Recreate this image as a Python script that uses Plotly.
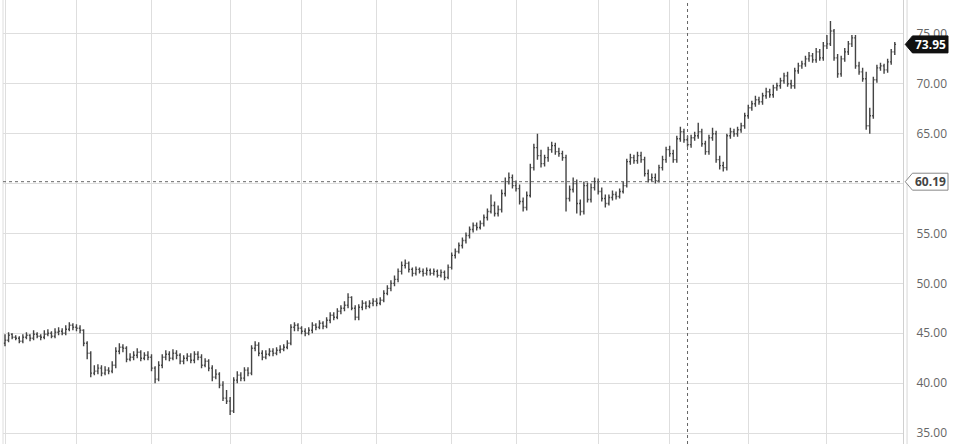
import plotly.graph_objects as go

bar_open = [
    44.0, 44.3, 44.9, 44.6, 44.5, 44.2, 44.6, 44.8, 44.5, 44.9,
    44.7, 44.6, 44.9, 45.0, 44.7, 45.1, 45.2, 45.0, 45.4, 45.8,
    45.6, 45.5, 45.3, 44.0, 43.0, 41.0, 41.2, 41.5, 41.0, 41.3,
    41.2, 41.8, 43.2, 43.6, 43.5, 42.4, 42.6, 42.8, 43.1, 42.5,
    42.8, 42.6, 41.5, 40.4, 41.8, 42.6, 42.9, 42.5, 43.0, 42.8,
    42.2, 42.5, 42.7, 42.3, 42.9, 42.6, 41.8, 42.2, 41.5, 40.6,
    40.9, 39.8, 38.5, 38.2, 37.2, 40.3, 40.8, 40.5, 41.3, 41.0,
    43.5, 43.8, 43.0, 42.6, 42.9, 43.2, 43.0, 43.3, 43.4, 43.6,
    44.0, 45.6, 45.8, 45.5, 45.2, 45.0, 45.3, 45.8, 45.6, 46.0,
    45.7, 46.3, 46.8, 46.6, 47.2, 47.5, 47.8, 48.6, 47.5, 46.6,
    47.6, 48.0, 47.7, 48.0, 48.2, 48.0, 48.3, 49.0, 49.5, 50.0,
    50.4, 51.2, 51.8, 52.0, 51.4, 51.0, 51.4, 51.2, 51.0, 51.3,
    51.0, 51.2, 50.8, 51.1, 50.6, 51.6, 52.8, 53.2, 53.8, 54.3,
    54.8, 55.4, 55.8, 55.6, 56.0, 56.6, 57.2, 57.8, 57.0, 57.4,
    59.0, 60.2, 60.6, 59.8, 59.5, 58.2, 57.6, 58.8, 61.6, 63.6,
    62.8, 62.0, 62.6, 63.4, 63.8, 63.2, 63.0, 62.6, 58.5, 59.4,
    60.0, 58.0, 57.2, 59.8, 58.4, 59.6, 60.2, 59.2, 58.5, 58.0,
    58.6, 58.9, 58.7, 59.2, 59.8, 62.2, 62.6, 62.3, 62.8, 62.4,
    61.0, 60.4, 60.6, 60.3, 61.6, 62.4, 63.4, 63.0, 62.4, 64.5,
    65.2, 64.4, 63.9, 64.6, 64.8, 65.2, 64.0, 63.2, 64.6, 65.0,
    62.4, 61.8, 61.6, 64.8, 65.2, 65.0, 65.4, 65.8, 66.8, 67.6,
    68.0, 68.4, 68.2, 68.8, 69.2, 68.9, 69.6, 69.8, 70.3, 70.8,
    70.0, 69.8, 71.3, 71.8, 72.0, 72.5, 72.8, 72.4, 73.2, 72.6,
    73.8, 74.0, 75.3, 72.6, 71.0, 72.5, 73.2, 74.0, 74.6, 71.8,
    71.2, 70.5, 65.8, 66.8, 70.4, 71.6, 71.8, 71.4, 72.2, 73.2,
]

bar_high = [
    44.9, 45.1, 45.0, 44.8, 44.7, 44.9, 45.1, 44.9, 45.3, 45.1,
    44.9, 45.3, 45.4, 45.2, 45.5, 45.6, 45.5, 45.8, 46.1, 46.0,
    45.9, 45.8, 45.4, 44.2, 43.2, 41.8, 41.9, 41.8, 41.7, 41.6,
    42.2, 43.6, 44.0, 43.9, 43.7, 43.0, 43.2, 43.5, 43.3, 43.1,
    43.2, 42.9, 41.7, 42.2, 42.9, 43.3, 43.2, 43.4, 43.3, 43.0,
    42.8, 43.0, 43.0, 43.2, 43.2, 42.9, 42.5, 42.4, 41.8, 41.4,
    41.1, 40.2, 39.3, 38.6, 40.6, 41.2, 41.1, 41.6, 41.6, 43.8,
    44.2, 44.1, 43.3, 43.3, 43.5, 43.5, 43.6, 43.8, 43.9, 44.3,
    45.9, 46.1, 46.0, 45.7, 45.5, 45.6, 46.1, 46.0, 46.3, 46.2,
    46.6, 47.1, 47.1, 47.5, 47.8, 48.2, 49.0, 48.7, 47.8, 47.9,
    48.3, 48.2, 48.3, 48.5, 48.5, 48.6, 49.3, 49.8, 50.3, 50.8,
    51.5, 52.2, 52.4, 52.2, 51.6, 51.7, 51.6, 51.5, 51.6, 51.5,
    51.5, 51.4, 51.4, 51.3, 51.9, 53.1, 53.5, 54.1, 54.6, 55.1,
    55.7, 56.1, 56.1, 56.3, 56.9, 57.5, 58.9, 58.2, 57.8, 59.4,
    60.6, 61.1, 60.9, 60.3, 59.9, 58.6, 59.2, 62.0, 64.0, 65.0,
    63.4, 62.9, 63.7, 64.2, 64.1, 63.6, 63.3, 62.9, 59.8, 60.6,
    60.4, 58.4, 60.2, 60.1, 60.0, 60.6, 60.5, 59.6, 58.9, 58.9,
    59.3, 59.2, 59.5, 60.2, 62.5, 63.0, 62.9, 63.2, 63.2, 62.7,
    61.4, 61.0, 61.0, 61.9, 62.8, 63.7, 63.8, 63.4, 64.8, 65.7,
    65.5, 64.8, 64.9, 65.2, 66.1, 65.5, 64.3, 64.9, 65.6, 65.3,
    62.8, 62.2, 65.0, 65.6, 65.5, 65.7, 66.1, 67.1, 67.9, 68.3,
    68.8, 68.7, 69.1, 69.6, 69.5, 69.9, 70.1, 70.6, 71.1, 71.2,
    70.4, 71.6, 72.1, 72.3, 72.8, 73.2, 73.1, 73.6, 73.5, 74.2,
    74.9, 76.3, 75.5, 73.0, 72.8, 73.6, 74.3, 74.9, 74.9, 72.2,
    71.6, 71.2, 67.6, 70.7, 71.9, 72.1, 72.0, 72.5, 73.5, 74.2,
]

bar_low = [
    43.7, 44.1, 44.4, 44.3, 44.0, 44.0, 44.4, 44.2, 44.3, 44.5,
    44.3, 44.4, 44.7, 44.5, 44.5, 44.8, 44.8, 44.8, 45.2, 45.3,
    45.2, 45.0, 43.7, 42.4, 40.6, 40.8, 40.9, 40.7, 40.8, 40.9,
    41.0, 41.5, 42.9, 43.1, 42.1, 42.2, 42.3, 42.5, 42.2, 42.3,
    42.3, 41.2, 40.0, 40.2, 41.5, 42.3, 42.2, 42.3, 42.4, 41.9,
    41.9, 42.2, 42.0, 42.0, 42.3, 41.5, 41.6, 41.2, 40.2, 40.4,
    39.5, 38.2, 37.9, 36.8, 37.0, 40.0, 40.2, 40.2, 40.7, 40.8,
    43.2, 42.7, 42.3, 42.4, 42.7, 42.7, 42.8, 43.0, 43.2, 43.4,
    43.8, 45.2, 45.2, 44.9, 44.7, 44.8, 45.0, 45.3, 45.4, 45.4,
    45.5, 46.0, 46.3, 46.4, 46.9, 47.2, 47.5, 47.3, 46.3, 46.3,
    47.3, 47.4, 47.5, 47.7, 47.7, 47.8, 48.1, 48.8, 49.2, 49.7,
    50.1, 50.9, 51.5, 51.1, 50.7, 50.8, 51.0, 50.7, 50.8, 50.8,
    50.8, 50.6, 50.6, 50.3, 50.4, 51.4, 52.5, 53.0, 53.5, 54.0,
    54.5, 55.1, 55.3, 55.4, 55.7, 56.3, 57.0, 56.7, 56.7, 57.1,
    58.7, 59.9, 59.5, 59.2, 57.9, 57.2, 57.3, 58.6, 61.3, 62.4,
    61.6, 61.7, 62.2, 63.1, 62.9, 62.7, 62.3, 57.2, 58.2, 59.1,
    57.0, 56.8, 56.9, 58.1, 58.1, 59.3, 58.9, 58.2, 57.6, 57.8,
    58.3, 58.4, 58.5, 59.0, 59.6, 61.9, 62.0, 62.0, 62.1, 60.7,
    60.1, 60.2, 60.0, 60.1, 61.3, 62.1, 62.7, 62.1, 62.1, 64.2,
    64.1, 63.7, 63.6, 64.3, 64.5, 63.7, 62.9, 62.9, 64.3, 62.1,
    61.4, 61.2, 61.3, 64.5, 64.7, 64.7, 65.1, 65.5, 66.5, 67.3,
    67.7, 67.9, 67.9, 68.5, 68.6, 68.6, 69.3, 69.5, 70.0, 69.7,
    69.5, 69.5, 71.0, 71.5, 71.7, 72.2, 72.1, 72.1, 72.3, 72.3,
    73.5, 73.8, 72.3, 70.6, 70.7, 72.2, 72.9, 73.7, 71.5, 70.9,
    70.2, 65.4, 65.0, 66.5, 70.1, 71.3, 71.0, 71.1, 71.9, 72.9,
]

bar_close = [
    44.3, 44.8, 44.6, 44.5, 44.2, 44.6, 44.8, 44.5, 44.9, 44.7,
    44.6, 44.9, 45.0, 44.7, 45.1, 45.2, 45.0, 45.4, 45.8, 45.6,
    45.5, 45.3, 44.0, 43.0, 41.0, 41.2, 41.5, 41.0, 41.3, 41.2,
    41.8, 43.2, 43.6, 43.5, 42.4, 42.6, 42.8, 43.1, 42.5, 42.8,
    42.6, 41.5, 40.4, 41.8, 42.6, 42.9, 42.5, 43.0, 42.8, 42.2,
    42.5, 42.7, 42.3, 42.9, 42.6, 41.8, 42.2, 41.5, 40.6, 40.9,
    39.8, 38.5, 38.2, 37.2, 40.3, 40.8, 40.5, 41.3, 41.0, 43.5,
    43.8, 43.0, 42.6, 42.9, 43.2, 43.0, 43.3, 43.4, 43.6, 44.0,
    45.6, 45.8, 45.5, 45.2, 45.0, 45.3, 45.8, 45.6, 46.0, 45.7,
    46.3, 46.8, 46.6, 47.2, 47.5, 47.8, 48.6, 47.5, 46.6, 47.6,
    48.0, 47.7, 48.0, 48.2, 48.0, 48.3, 49.0, 49.5, 50.0, 50.4,
    51.2, 51.8, 52.0, 51.4, 51.0, 51.4, 51.2, 51.0, 51.3, 51.0,
    51.2, 50.8, 51.1, 50.6, 51.6, 52.8, 53.2, 53.8, 54.3, 54.8,
    55.4, 55.8, 55.6, 56.0, 56.6, 57.2, 57.8, 57.0, 57.4, 59.0,
    60.2, 60.6, 59.8, 59.5, 58.2, 57.6, 58.8, 61.6, 63.6, 62.8,
    62.0, 62.6, 63.4, 63.8, 63.2, 63.0, 62.6, 58.5, 59.4, 60.0,
    58.0, 57.2, 59.8, 58.4, 59.6, 60.2, 59.2, 58.5, 58.0, 58.6,
    58.9, 58.7, 59.2, 59.8, 62.2, 62.6, 62.3, 62.8, 62.4, 61.0,
    60.4, 60.6, 60.3, 61.6, 62.4, 63.4, 63.0, 62.4, 64.5, 65.2,
    64.4, 63.9, 64.6, 64.8, 65.2, 64.0, 63.2, 64.6, 65.0, 62.4,
    61.8, 61.6, 64.8, 65.2, 65.0, 65.4, 65.8, 66.8, 67.6, 68.0,
    68.4, 68.2, 68.8, 69.2, 68.9, 69.6, 69.8, 70.3, 70.8, 70.0,
    69.8, 71.3, 71.8, 72.0, 72.5, 72.8, 72.4, 73.2, 72.6, 73.8,
    74.0, 75.3, 72.6, 71.0, 72.5, 73.2, 74.0, 74.6, 71.8, 71.2,
    70.5, 65.8, 66.8, 70.4, 71.6, 71.8, 71.4, 72.2, 73.2, 73.95,
]

# bar index of the first trading day of each month (vertical gridlines)
month_start_bars = [0, 20, 41, 63, 83, 104, 125, 143, 166, 186, 208, 230]
price_ticks = [35, 40, 45, 50, 55, 60, 65, 70, 75]
last_price = 73.95
crosshair_price = 60.19
crosshair_bar = 191

bar_index = list(range(len(bar_close)))

fig = go.Figure()
fig.add_trace(go.Ohlc(
    x=bar_index, open=bar_open, high=bar_high, low=bar_low, close=bar_close,
    increasing=dict(line=dict(color="#444444", width=1.4)),
    decreasing=dict(line=dict(color="#444444", width=1.4)),
    tickwidth=0.35, hoverinfo="skip", showlegend=False,
))

grid = "#dedede"
fig.update_layout(
    width=956, height=444,
    margin=dict(l=3, r=53, t=0, b=0, autoexpand=False),
    paper_bgcolor="white", plot_bgcolor="white",
    font=dict(family="Open Sans", size=12, color="#666666"),
    showlegend=False,
    xaxis=dict(
        range=[-0.56, 251.3], tickmode="array", tickvals=month_start_bars,
        showticklabels=False, showgrid=True, gridcolor=grid, gridwidth=1,
        zeroline=False, rangeslider=dict(visible=False), fixedrange=True,
        automargin=False,
    ),
    yaxis=dict(
        side="right", range=[33.9, 78.4], tickmode="array", tickvals=price_ticks,
        ticktext=[f"{v:.2f}" for v in price_ticks], showgrid=True, gridcolor=grid,
        gridwidth=1, zeroline=False, ticks="", ticklabelstandoff=10,
        showline=True, linecolor="#d0d0d0", linewidth=1, automargin=False,
    ),
)

shapes = [
    # left border
    dict(type="line", xref="paper", yref="paper", x0=0, x1=0, y0=0, y1=1,
         line=dict(color=grid, width=1)),
    # second right border line
    dict(type="line", xref="paper", yref="paper", x0=1.0045, x1=1.0045, y0=0, y1=1,
         line=dict(color="#d8d8d8", width=1)),
    # crosshair
    dict(type="line", xref="x", yref="paper", x0=crosshair_bar, x1=crosshair_bar,
         y0=0, y1=1, line=dict(color="#666666", width=1, dash="dot")),
    dict(type="line", xref="paper", yref="y", x0=0, x1=1.0,
         y0=crosshair_price, y1=crosshair_price,
         line=dict(color="#666666", width=1, dash="dot")),
]

# price badges (pointed tags on the right axis)
def tag_path(price, half=0.85):
    xl, xn, xr = 1.0025, 1.0105, 1.0500
    return (f"M {xl},{price} L {xn},{price + half} L {xr},{price + half} "
            f"L {xr},{price - half} L {xn},{price - half} Z")

shapes.append(dict(type="path", xref="paper", yref="y", path=tag_path(last_price),
                   fillcolor="#111111", line=dict(color="#111111", width=1), layer="above"))
shapes.append(dict(type="path", xref="paper", yref="y", path=tag_path(crosshair_price),
                   fillcolor="white", line=dict(color="#888888", width=1), layer="above"))
fig.update_layout(shapes=shapes)

fig.add_annotation(xref="paper", yref="y", x=1.031, y=last_price, text=f"<b>{last_price:.2f}</b>",
                   showarrow=False, font=dict(family="Open Sans", size=12, color="white"),
                   xanchor="center", yanchor="middle")
fig.add_annotation(xref="paper", yref="y", x=1.031, y=crosshair_price, text=f"<b>{crosshair_price:.2f}</b>",
                   showarrow=False, font=dict(family="Open Sans", size=12, color="#444444"),
                   xanchor="center", yanchor="middle")

fig.write_html("out.html", config={"displayModeBar": False},
               post_script="document.body.style.margin='0';document.body.style.overflow='hidden';")
